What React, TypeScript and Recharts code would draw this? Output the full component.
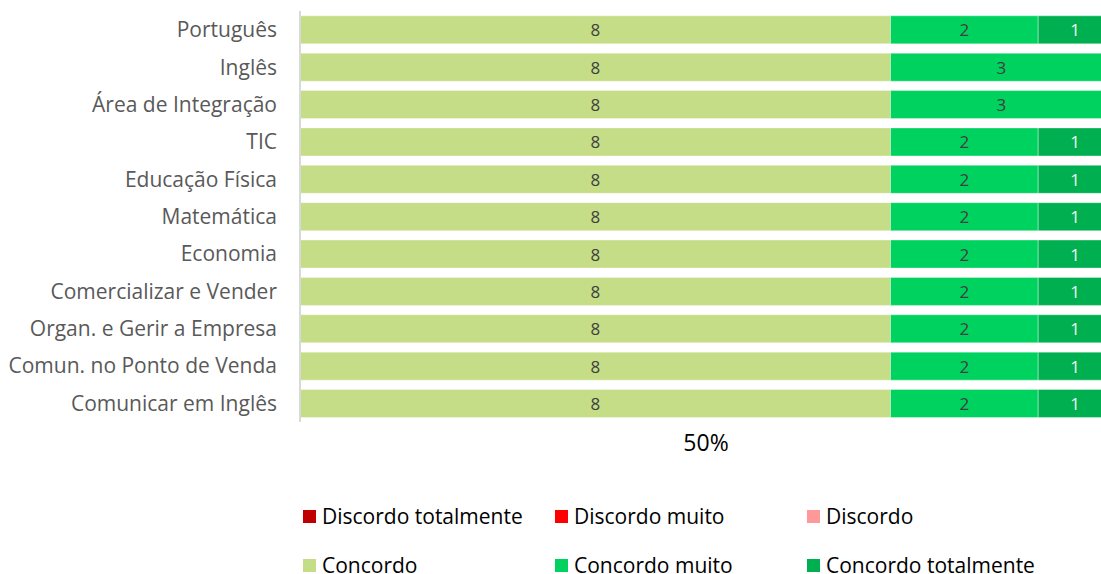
import { BarChart, Bar, XAxis, YAxis, CartesianGrid, Legend, LabelList, Label } from "recharts";

const categories = [
  "Português",
  "Inglês",
  "Área de Integração",
  "TIC",
  "Educação Física",
  "Matemática",
  "Economia",
  "Comercializar e Vender",
  "Organ. e Gerir a Empresa",
  "Comun. no Ponto de Venda",
  "Comunicar em Inglês",
];

const discordoTotalmente = [0, 0, 0, 0, 0, 0, 0, 0, 0, 0, 0];
const discordoMuito = [0, 0, 0, 0, 0, 0, 0, 0, 0, 0, 0];
const discordo = [0, 0, 0, 0, 0, 0, 0, 0, 0, 0, 0];
const concordo = [8, 8, 8, 8, 8, 8, 8, 8, 8, 8, 8];
const concordoMuito = [2, 3, 3, 2, 2, 2, 2, 2, 2, 2, 2];
const concordoTotalmente = [1, 0, 0, 1, 1, 1, 1, 1, 1, 1, 1];

const gridTicks = [0, 0.2, 0.4, 0.6, 0.8, 1];
const axisTitle = "50%";

const series = [
  { key: "dt", name: "Discordo totalmente", color: "#C00000", values: discordoTotalmente, label: "#404040" },
  { key: "dm", name: "Discordo muito", color: "#FF0000", values: discordoMuito, label: "#404040" },
  { key: "d", name: "Discordo", color: "#FF9999", values: discordo, label: "#404040" },
  { key: "c", name: "Concordo", color: "#C4DD86", values: concordo, label: "#404040" },
  { key: "cm", name: "Concordo muito", color: "#00D25F", values: concordoMuito, label: "#404040" },
  { key: "ct", name: "Concordo totalmente", color: "#00B050", values: concordoTotalmente, label: "#F2F2F2" },
];

const data = categories.map((name, i) => {
  const row: Record<string, string | number> = { name };
  series.forEach((s) => {
    row[s.key] = s.values[i];
  });
  return row;
});

const font = "'Open Sans', sans-serif";

// centred value label, hidden for empty segments
const makeLabel = (color: string) => (props: any) => {
  const { x, y, width, height, value } = props;
  if (!value) return null;
  return (
    <text
      x={Number(x) + Number(width) / 2}
      y={Number(y) + Number(height) / 2}
      textAnchor="middle"
      dominantBaseline="central"
      fill={color}
      fontSize={17}
      fontFamily={font}
    >
      {value}
    </text>
  );
};

function LegendBox() {
  return (
    <div
      style={{
        display: "grid",
        gridTemplateColumns: "252px 252px 276px",
        rowGap: 29,
        fontFamily: font,
        fontSize: 21,
        color: "#000",
      }}
    >
      {series.map((s) => (
        <div key={s.key} style={{ display: "flex", alignItems: "center", height: 20, whiteSpace: "nowrap" }}>
          <span style={{ width: 13, height: 13, background: s.color, display: "inline-block", marginRight: 6, flex: "none" }} />
          <span style={{ lineHeight: "20px" }}>{s.name}</span>
        </div>
      ))}
    </div>
  );
}

export default function App() {
  return (
    <div style={{ position: "absolute", left: 0, top: 0, width: 1101, height: 574, overflow: "hidden", background: "#fff" }}>
      <BarChart
        width={1112}
        height={574}
        data={data}
        layout="vertical"
        stackOffset="expand"
        barCategoryGap="13%"
        margin={{ top: 11, right: 0, bottom: 112, left: 0 }}
      >
        <CartesianGrid horizontal={false} stroke="#D9D9D9" />
        <XAxis
          type="number"
          domain={[0, 1]}
          ticks={gridTicks}
          tick={false}
          tickLine={false}
          axisLine={false}
          height={40}
        >
          <Label value={axisTitle} position="center" fill="#000" fontSize={23} fontFamily={font} dy={1} />
        </XAxis>
        <YAxis
          type="category"
          dataKey="name"
          width={300}
          tickSize={0}
          tickMargin={23}
          axisLine={{ stroke: "#D9D9D9", strokeWidth: 2 }}
          tick={{ fontSize: 21, fill: "#595959", fontFamily: font }}
          interval={0}
        />
        {series.map((s) => (
          <Bar
            key={s.key}
            dataKey={s.key}
            name={s.name}
            stackId="a"
            fill={s.color}
            stroke="rgba(255,255,255,0.35)"
            strokeWidth={1}
            isAnimationActive={false}
          >
            <LabelList dataKey={s.key} content={makeLabel(s.label)} />
          </Bar>
        ))}
        <Legend
          verticalAlign="middle"
          layout="horizontal"
          content={() => <LegendBox />}
          wrapperStyle={{ position: "absolute", top: 506, left: 303, width: 790 }}
        />
      </BarChart>
    </div>
  );
}
